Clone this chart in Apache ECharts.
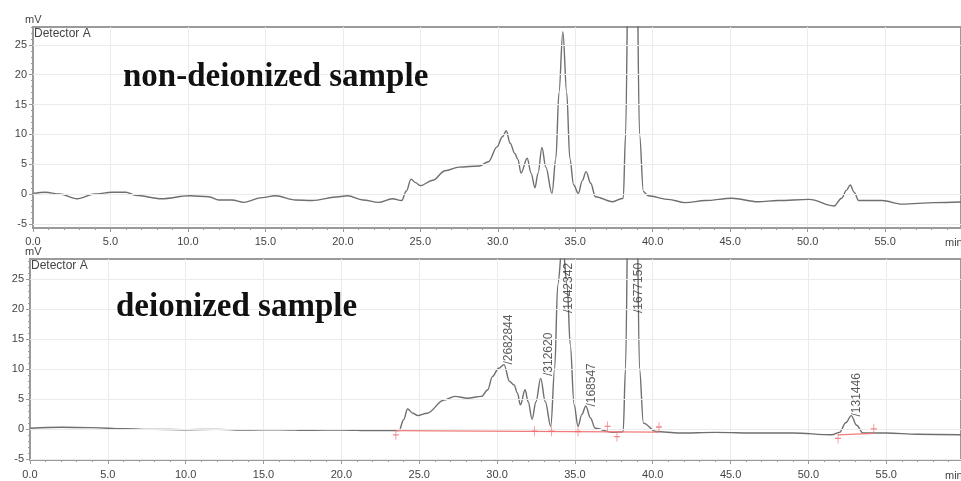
<!DOCTYPE html>
<html>
<head>
<meta charset="utf-8">
<script src="https://cdn.jsdelivr.net/npm/echarts@6/dist/echarts.min.js"></script>
<style>
  html, body { margin: 0; padding: 0; background: #fff; }
  #chart { width: 961px; height: 481px; }
</style>
</head>
<body>
<div id="chart"></div>
<script>
// non-deionized sample (top trace), time in min, signal in mV
var timeTop = [0.0, 0.8, 1.7, 2.85, 4.0, 5.1, 6.0, 6.6, 8.3, 10.1, 11.35, 12.0, 12.85, 13.6, 14.8, 15.65,
    16.95, 18.0, 19.75, 20.3, 21.3, 22.3, 23.2, 23.8, 24.1, 24.4, 24.7, 25.0, 25.8, 26.6, 27.5, 28.8,
    29.4, 29.95, 30.3, 30.55, 30.8, 31.1, 31.3, 31.5, 31.9, 32.15, 32.4, 32.6, 32.85, 33.1, 33.5, 33.75,
    33.95, 34.2, 34.45, 34.65, 34.9, 35.2, 35.45, 35.7, 36.0, 36.3, 37.4, 38.1, 38.25, 38.45, 38.7,
    38.95, 39.15, 39.4, 39.7, 41.0, 42.1, 43.4, 45.1, 46.8, 48.1, 50.1, 51.7, 52.2, 52.5, 52.75, 53.0,
    53.3, 54.8, 56.1, 58.2, 59.9];
var signalTop = [0.1, 0.3, 0.0, -0.8, 0.0, 0.3, 0.3, -0.2, -0.8, -0.3, -0.45, -1.0, -1.0, -1.4, -0.6, -0.3,
    -1.0, -1.1, -0.45, -0.3, -1.0, -1.4, -0.8, -1.1, 0.5, 2.5, 1.9, 1.4, 2.3, 3.9, 4.5, 4.7,
    5.4, 7.9, 9.6, 10.6, 8.5, 6.8, 5.8, 3.5, 6.0, 3.5, 1.05, 3.5, 7.8, 4.5, 0.1, 6.0,
    17.0, 27.2, 17.0, 6.0, 1.5, 0.1, 2.2, 3.75, 1.8, -0.45, -1.3, -0.7, 10, 45, 65,
    45, 10, 0.4, -0.3, -0.9, -1.45, -1.1, -0.7, -1.3, -1.1, -0.9, -2.0, -0.7, 0.6, 1.5, 0.3,
    -1.1, -1.1, -1.7, -1.45, -1.35];

// deionized sample (bottom trace)
var timeBottom = [0.0, 2.0, 4.0, 6.0, 8.0, 10.0, 12.0, 14.0, 16.0, 18.0, 20.0, 22.0, 23.7, 24.0, 24.25,
    24.6, 24.9, 25.5, 26.6, 27.3, 28.1, 29.0, 29.4, 29.7, 30.1, 30.45, 30.8, 31.1, 31.3, 31.5, 31.8,
    32.0, 32.25, 32.5, 32.8, 33.1, 33.45, 33.7, 33.9, 34.2, 34.5, 34.7, 34.95, 35.2, 35.45, 35.7, 36.0,
    36.3, 37.4, 38.1, 38.25, 38.45, 38.7, 38.95, 39.15, 39.4, 40.2, 41.7, 44.0, 46.8, 49.0, 51.5, 52.0,
    52.4, 52.75, 53.1, 53.5, 55.0, 57.0, 59.8];
var signalBottom = [0.1, 0.25, 0.2, 0.0, -0.1, -0.15, -0.1, -0.2, -0.15, -0.25, -0.2, -0.3, -0.3, 1.5, 3.3,
    2.6, 2.2, 2.6, 4.8, 5.4, 5.1, 5.4, 6.5, 8.7, 10.1, 10.7, 7.9, 7.3, 6.0, 4.0, 6.5,
    4.5, 1.6, 4.5, 8.4, 4.5, 0.4, 10, 24, 31, 24, 14, 4, 0.4, 2.4, 3.8, 1.8,
    0.1, -0.6, -0.5, 10, 45, 65, 45, 10, 0.95, -0.45, -0.7, -0.6, -0.7, -0.7, -1.0, -0.6,
    1.0, 2.2, 0.6, -0.7, -0.7, -0.9, -1.0];

// integration baselines and peak start/end marks (bottom)
var baseA = [[23.5, -0.3], [40.4, -0.55]];
var baseB = [[51.9, -1.0], [54.2, -0.75]];
var markTimes = [23.5, 32.4, 33.5, 35.2, 37.1, 37.7, 40.4, 51.9, 54.2];
var markLevels = [-1.0, -0.4, -0.4, -0.45, 0.4, -1.3, 0.3, -1.6, 0.0];

// peak area labels
var peakAreas = ['/2682844', '/312620', '/1042342', '/168547', '/1677150', '/131446'];
var peakLabelTime = [30.75, 33.3, 34.6, 36.1, 39.1, 53.1];
var peakLabelLevel = [10.7, 8.8, 19.3, 3.7, 19.3, 2.05];

var majorY = [-5, 0, 5, 10, 15, 20, 25];
var minorY = [];
for (var i = -5; i <= 28; i++) minorY.push(i);

function pairs(t, v) {
    return t.map(function (x, k) { return [x, v[k]]; });
}

var gray = '#6f6f6f';
var axisGray = '#9a9a9a';
var labelFont = {fontFamily: 'Liberation Sans', fontSize: 11, color: '#444'};

function xAxisFor(idx, margin) {
    return {
        type: 'value', gridIndex: idx, min: 0, max: idx === 0 ? 59.9 : 59.8, interval: 5,
        axisLine: {show: true, onZero: false, lineStyle: {color: axisGray, width: 2}},
        axisTick: {show: true, length: 4, lineStyle: {color: axisGray}},
        minorTick: {show: true, splitNumber: 5, length: 2, lineStyle: {color: axisGray}},
        axisLabel: Object.assign({margin: margin, showMaxLabel: false, formatter: function (v) { return v.toFixed(1); }}, labelFont),
        splitLine: {show: true, lineStyle: {color: '#ebebeb', width: 1}}
    };
}

function yAxesFor(idx, min, max) {
    return [{
        type: 'value', gridIndex: idx, position: 'left', min: min, max: max,
        axisLine: {show: true, lineStyle: {color: axisGray, width: 1}},
        axisTick: {show: true, customValues: minorY, length: 2, lineStyle: {color: axisGray}},
        axisLabel: {show: false},
        splitLine: {show: false}
    }, {
        type: 'value', gridIndex: idx, position: 'left', offset: 0, min: min, max: max,
        axisLine: {show: false},
        axisTick: {show: true, customValues: majorY, length: 4, lineStyle: {color: axisGray}},
        axisLabel: Object.assign({customValues: majorY, margin: 6}, labelFont),
        splitLine: {show: false}
    }];
}

var hLines = {
    silent: true, symbol: 'none', label: {show: false},
    lineStyle: {color: '#ebebeb', width: 1, type: 'solid'},
    data: majorY.map(function (v) { return {yAxis: v}; })
};

var option = {
    animation: false,
    grid: [
        {left: 33, right: -2, top: 27, height: 201, show: true, borderColor: axisGray, borderWidth: 2, backgroundColor: 'transparent'},
        {left: 30, right: -2, top: 259, height: 201, show: true, borderColor: axisGray, borderWidth: 2, backgroundColor: 'transparent'}
    ],
    xAxis: [xAxisFor(0, 8), xAxisFor(1, 9)],
    yAxis: yAxesFor(0, -5.7, 28).concat(yAxesFor(1, -5.2, 28.3)),
    graphic: [
        {type: 'text', z: 100, left: 25, top: 14, style: {text: 'mV', font: '11px "Liberation Sans"', fill: '#444'}},
        {type: 'text', z: 100, left: 34, top: 28, style: {text: 'Detector A', font: '12px "Liberation Sans"', fill: '#444'}},
        {type: 'text', z: 100, left: 945, top: 237, style: {text: 'min', font: '11px "Liberation Sans"', fill: '#444'}},
        {type: 'text', z: 100, left: 25, top: 246, style: {text: 'mV', font: '11px "Liberation Sans"', fill: '#444'}},
        {type: 'text', z: 100, left: 31, top: 260, style: {text: 'Detector A', font: '12px "Liberation Sans"', fill: '#444'}},
        {type: 'text', z: 100, left: 945, top: 470, style: {text: 'min', font: '11px "Liberation Sans"', fill: '#444'}},
        {type: 'text', z: 100, x: 123, y: 77, style: {text: 'non-deionized sample', font: 'bold 33px "Liberation Serif"', fill: '#111', textVerticalAlign: 'middle'}},
        {type: 'text', z: 100, x: 116, y: 307, style: {text: 'deionized sample', font: 'bold 33px "Liberation Serif"', fill: '#111', textVerticalAlign: 'middle'}}
    ],
    series: [
        {type: 'line', xAxisIndex: 0, yAxisIndex: 0, data: [], markLine: hLines, z: 1},
        {type: 'line', xAxisIndex: 1, yAxisIndex: 2, data: [], markLine: hLines, z: 1},
        {
            name: 'non-deionized', type: 'line', xAxisIndex: 0, yAxisIndex: 0,
            data: pairs(timeTop, signalTop), showSymbol: false, smooth: 0.35, smoothMonotone: 'x',
            lineStyle: {color: gray, width: 1.4}, z: 3
        },
        {
            name: 'deionized', type: 'line', xAxisIndex: 1, yAxisIndex: 2,
            data: pairs(timeBottom, signalBottom), showSymbol: false, smooth: 0.35, smoothMonotone: 'x',
            lineStyle: {color: gray, width: 1.4}, z: 3
        },
        {type: 'line', xAxisIndex: 1, yAxisIndex: 2, data: baseA, showSymbol: false, lineStyle: {color: '#f07a7a', width: 1.2}, z: 4},
        {type: 'line', xAxisIndex: 1, yAxisIndex: 2, data: baseB, showSymbol: false, lineStyle: {color: '#f07a7a', width: 1.2}, z: 4},
        {
            type: 'scatter', xAxisIndex: 1, yAxisIndex: 2, data: pairs(markTimes, markLevels),
            symbol: 'path://M4,0L4,10M1,5L7,5', symbolSize: [6, 10],
            itemStyle: {color: 'none', borderColor: '#ef6b6b', borderWidth: 1}, z: 5
        },
        {
            type: 'scatter', xAxisIndex: 1, yAxisIndex: 2, data: pairs(peakLabelTime, peakLabelLevel),
            symbolSize: 0, z: 6,
            label: {
                show: true, position: 'top', distance: 0, rotate: 90, align: 'left', verticalAlign: 'middle',
                fontFamily: 'Liberation Sans', fontSize: 12, color: '#333',
                formatter: function (p) { return peakAreas[p.dataIndex]; }
            }
        }
    ]
};

var myChart = echarts.init(document.getElementById('chart'));
myChart.setOption(option);
</script>
</body>
</html>
